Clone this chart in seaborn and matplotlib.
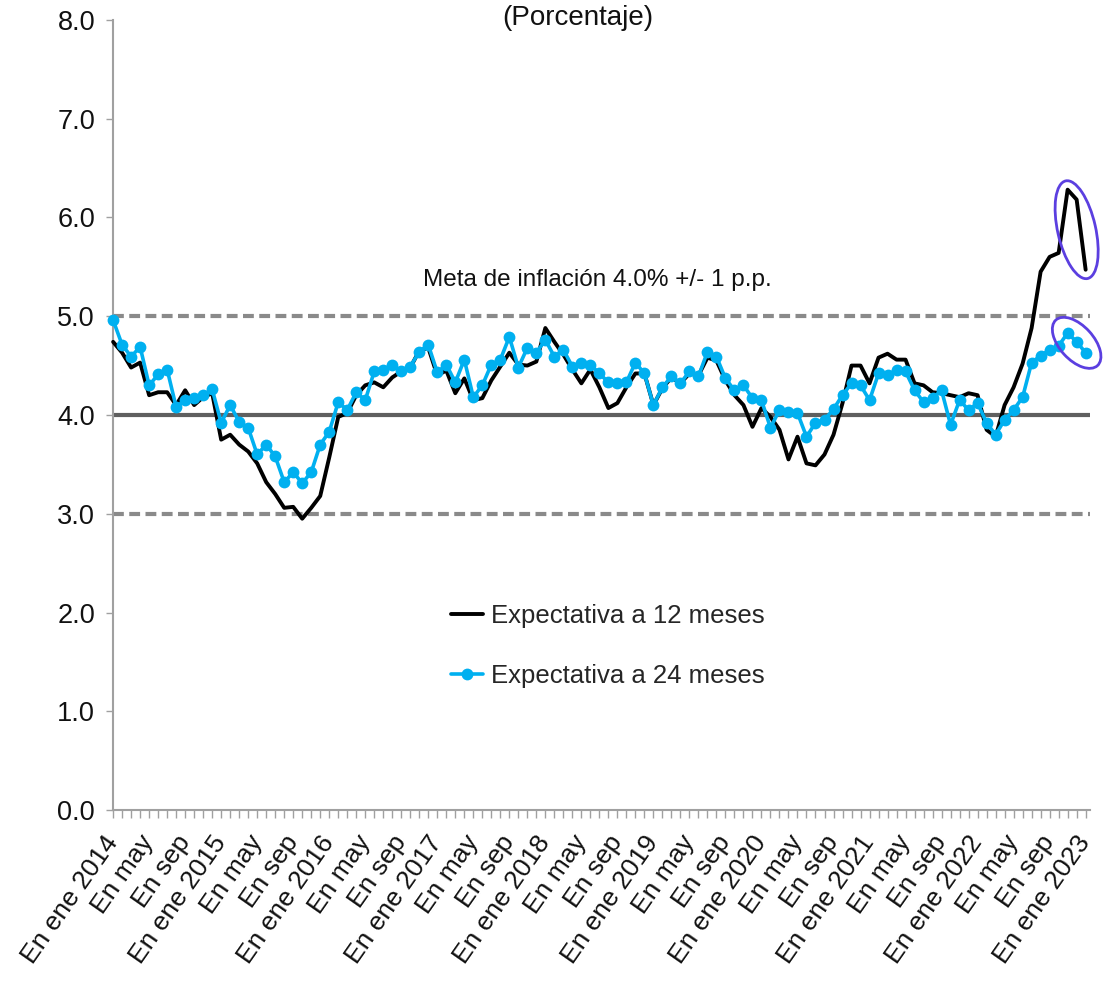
import numpy as np
import pandas as pd
import seaborn as sns
import matplotlib.pyplot as plt
from matplotlib.patches import Ellipse

# Expectativas de inflacion, ene 2014 - ene 2023 (mensual)
exp_12m = [4.74, 4.63, 4.48, 4.53, 4.20, 4.23, 4.23, 4.10, 4.25, 4.10, 4.18, 4.22,
           3.75, 3.80, 3.70, 3.63, 3.51, 3.32, 3.20, 3.06, 3.07, 2.95, 3.06, 3.18,
           3.57, 3.98, 4.02, 4.20, 4.30, 4.33, 4.28, 4.38, 4.44, 4.48, 4.65, 4.68,
           4.40, 4.45, 4.22, 4.37, 4.15, 4.17, 4.35, 4.49, 4.63, 4.51, 4.50, 4.54,
           4.88, 4.74, 4.61, 4.46, 4.32, 4.46, 4.28, 4.07, 4.12, 4.28, 4.42, 4.42,
           4.10, 4.27, 4.38, 4.32, 4.42, 4.40, 4.58, 4.55, 4.35, 4.20, 4.10, 3.88,
           4.07, 3.98, 3.85, 3.55, 3.78, 3.51, 3.49, 3.60, 3.80, 4.12, 4.50, 4.50,
           4.32, 4.58, 4.62, 4.56, 4.56, 4.32, 4.30, 4.23, 4.22, 4.20, 4.18, 4.22,
           4.20, 3.85, 3.78, 4.10, 4.28, 4.52, 4.88, 5.45, 5.60, 5.64, 6.28, 6.18,
           5.47]
exp_24m = [4.96, 4.71, 4.59, 4.69, 4.30, 4.41, 4.46, 4.08, 4.15, 4.17, 4.20, 4.26,
           3.92, 4.10, 3.93, 3.87, 3.60, 3.70, 3.58, 3.32, 3.42, 3.31, 3.42, 3.70,
           3.83, 4.13, 4.05, 4.23, 4.15, 4.44, 4.46, 4.51, 4.44, 4.49, 4.64, 4.71,
           4.43, 4.51, 4.33, 4.56, 4.18, 4.30, 4.51, 4.56, 4.79, 4.48, 4.68, 4.63,
           4.76, 4.59, 4.66, 4.49, 4.53, 4.51, 4.42, 4.33, 4.32, 4.33, 4.53, 4.42,
           4.10, 4.28, 4.39, 4.32, 4.44, 4.39, 4.64, 4.59, 4.37, 4.25, 4.30, 4.17,
           4.15, 3.87, 4.05, 4.03, 4.02, 3.78, 3.92, 3.95, 4.06, 4.20, 4.32, 4.30,
           4.15, 4.42, 4.40, 4.46, 4.44, 4.25, 4.13, 4.17, 4.25, 3.90, 4.15, 4.05,
           4.12, 3.92, 3.80, 3.95, 4.05, 4.18, 4.53, 4.60, 4.66, 4.70, 4.83, 4.74,
           4.63]
tick_labels = ['En ene 2014', 'En may', 'En sep', 'En ene 2015', 'En may', 'En sep',
               'En ene 2016', 'En may', 'En sep', 'En ene 2017', 'En may', 'En sep',
               'En ene 2018', 'En may', 'En sep', 'En ene 2019', 'En may', 'En sep',
               'En ene 2020', 'En may', 'En sep', 'En ene 2021', 'En may', 'En sep',
               'En ene 2022', 'En may', 'En sep', 'En ene 2023']
meta = 4.0
banda = 1.0

sns.set_theme(style='white')
plt.rcParams['font.family'] = ['Liberation Sans', 'DejaVu Sans']

df = pd.DataFrame({'mes': np.arange(len(exp_12m)), 'exp12': exp_12m, 'exp24': exp_24m})

fig = plt.figure(figsize=(11.09, 9.88), dpi=100)
ax = fig.add_axes([0.102, 0.180, 0.881, 0.800])

ax.axhline(meta, color='#5f5f5f', lw=3, zorder=1)
for y in (meta - banda, meta + banda):
    ax.axhline(y, color='#8a8a8a', lw=3, ls=(0, (2.6, 1.3)), zorder=1)

sns.lineplot(data=df, x='mes', y='exp12', color='black', lw=2.8,
             label='Expectativa a 12 meses', ax=ax, clip_on=False, zorder=3)
sns.lineplot(data=df, x='mes', y='exp24', color='#00B0F0', lw=2.6, marker='o',
             markersize=8.5, markeredgewidth=0, label='Expectativa a 24 meses',
             ax=ax, clip_on=False, zorder=4)

ax.set_xlim(0, len(exp_12m) - 0.5)
ax.set_ylim(0, 8)
ax.set_yticks(np.arange(0, 9, 1))
ax.set_yticklabels([f'{v:.1f}' for v in range(9)], fontsize=19.5, color='#111111')
ax.set_xticks(np.arange(0, len(exp_12m), 4))
ax.set_xticklabels(tick_labels, rotation=55, ha='right', va='center',
                   rotation_mode='anchor', fontsize=19, color='#111111')
ax.set_xticks(np.arange(len(exp_12m)), minor=True)
ax.tick_params(axis='x', which='both', direction='out', length=6, width=1,
               color='#a0a0a0', bottom=True, pad=14)
ax.tick_params(axis='y', direction='out', length=5, width=1, color='#a0a0a0',
               left=True, pad=8)
ax.set_xlabel('')
ax.set_ylabel('')
for s in ('top', 'right'):
    ax.spines[s].set_visible(False)
for s in ('left', 'bottom'):
    ax.spines[s].set_color('#a0a0a0')
    ax.spines[s].set_linewidth(1.5)

ax.text(53.8, 5.37, 'Meta de inflación 4.0% +/- 1 p.p.', ha='center', va='center',
        fontsize=17.5, color='#111111')
fig.text(0.521, 0.982, '(Porcentaje)', ha='center', va='center', fontsize=20,
         color='#111111')

ax.legend(loc='upper left', bbox_to_anchor=(0.322, 0.29), frameon=False, fontsize=18.5,
          handlelength=1.25, handletextpad=0.3, labelspacing=1.4)

# ovalos que resaltan los ultimos tres datos de cada serie
fig.canvas.draw()
for serie, minor, pad in ((exp_12m, 38, 18), (exp_24m, 34, 35)):
    pts = ax.transData.transform([(i, serie[i]) for i in range(len(serie) - 3, len(serie))])
    c = (pts[0] + pts[-1]) / 2
    d = pts[-1] - pts[0]
    ang = np.degrees(np.arctan2(d[1], d[0]))
    ell = Ellipse(c, np.hypot(*d) + pad, minor, angle=ang, fill=False,
                  edgecolor='#5B3FE0', lw=2, transform=None, zorder=5)
    fig.add_artist(ell)

fig.savefig('out.png', dpi=100)
